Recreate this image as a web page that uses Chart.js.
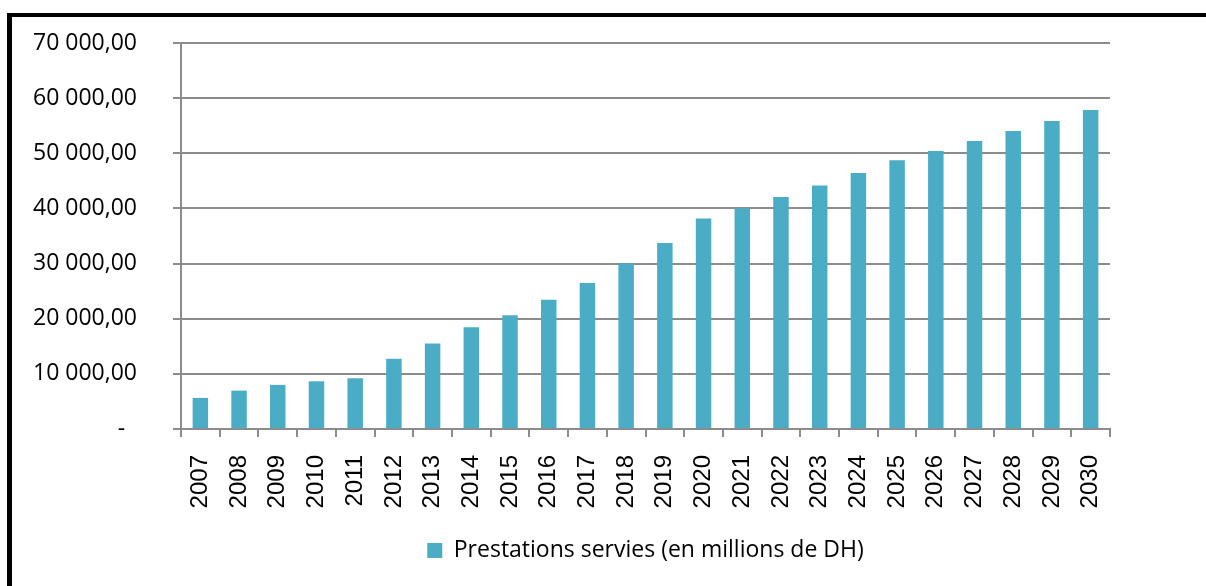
<!DOCTYPE html>
<html><head><meta charset="utf-8">
<script src="https://cdn.jsdelivr.net/npm/chart.js@4/dist/chart.umd.min.js"></script>
<style>html,body{margin:0;padding:0;background:#fff;overflow:hidden;} #wrap{position:relative;width:1206px;height:586px;}</style>
</head><body><div id="wrap"><canvas id="c" width="1206" height="586"></canvas></div>
<script>
const categories = ['2007','2008','2009','2010','2011','2012','2013','2014','2015','2016','2017','2018','2019','2020','2021','2022','2023','2024','2025','2026','2027','2028','2029','2030'];
const prestations = [5640, 6960, 8000, 8650, 9200, 12730, 15500, 18470, 20650, 23450, 26470, 30000, 33750, 38180, 40050, 42050, 44180, 46420, 48730, 50420, 52240, 54050, 55870, 57870];
const yTickValues = [0, 10000, 20000, 30000, 40000, 50000, 60000, 70000];
const seriesLabel = 'Prestations servies (en millions de DH)';

function fmt(v) {
  if (v === 0) return '-  ';
  return Math.round(v / 1000) + ' 000,00';
}

const framePlugin = {
  id: 'frame',
  afterDraw(chart) {
    const ctx = chart.ctx;
    ctx.save();
    ctx.fillStyle = '#000';
    ctx.fillRect(7, 13, 1199, 4);
    ctx.fillRect(7, 13, 5, 573);
    ctx.restore();
  }
};

function noPad(s) { s.paddingTop = 0; s.paddingBottom = 0; s.paddingLeft = 0; s.paddingRight = 0; }

new Chart(document.getElementById('c'), {
  type: 'bar',
  data: {
    labels: categories,
    datasets: [{
      label: seriesLabel,
      data: prestations,
      backgroundColor: '#4BACC6',
      borderWidth: 0,
      barPercentage: 0.4,
      categoryPercentage: 1.0,
      yAxisID: 'y'
    }]
  },
  options: {
    responsive: false,
    devicePixelRatio: 1,
    animation: false,
    layout: { padding: { top: 43, right: 0, left: 0, bottom: 14 } },
    plugins: {
      tooltip: { enabled: false },
      legend: {
        position: 'bottom',
        fullSize: false,
        labels: {
          boxWidth: 15, boxHeight: 15,
          color: '#000',
          font: { family: 'Open Sans', size: 23 },
          padding: 10
        }
      }
    },
    scales: {
      x: {
        grid: { display: true, drawOnChartArea: false, drawTicks: true, tickLength: 8, color: '#8c8c8c', lineWidth: 2, offset: true },
        border: { color: '#8c8c8c', width: 2 },
        ticks: { minRotation: 90, maxRotation: 90, autoSkip: false, color: '#000', font: { family: 'Liberation Sans', size: 24 }, padding: 18 },
        afterFit: s => { s.height = 100; noPad(s); }
      },
      y: {
        position: 'left',
        min: 0, max: 70000,
        afterBuildTicks: s => { s.ticks = yTickValues.map(v => ({ value: v })); },
        grid: { color: '#8c8c8c', lineWidth: 2, tickLength: 8 },
        border: { color: '#8c8c8c', width: 2 },
        ticks: { color: '#000', font: { family: 'Open Sans', size: 23 }, padding: 36, callback: v => fmt(v) },
        afterFit: s => { s.width = 181; noPad(s); }
      },
      yRight: {
        position: 'right',
        display: true,
        min: 0, max: 70000,
        grid: { display: false, drawOnChartArea: false, drawTicks: false },
        border: { display: false },
        ticks: { display: false },
        afterFit: s => { s.width = 96; noPad(s); }
      }
    }
  },
  plugins: [framePlugin]
});
</script>
</body></html>
